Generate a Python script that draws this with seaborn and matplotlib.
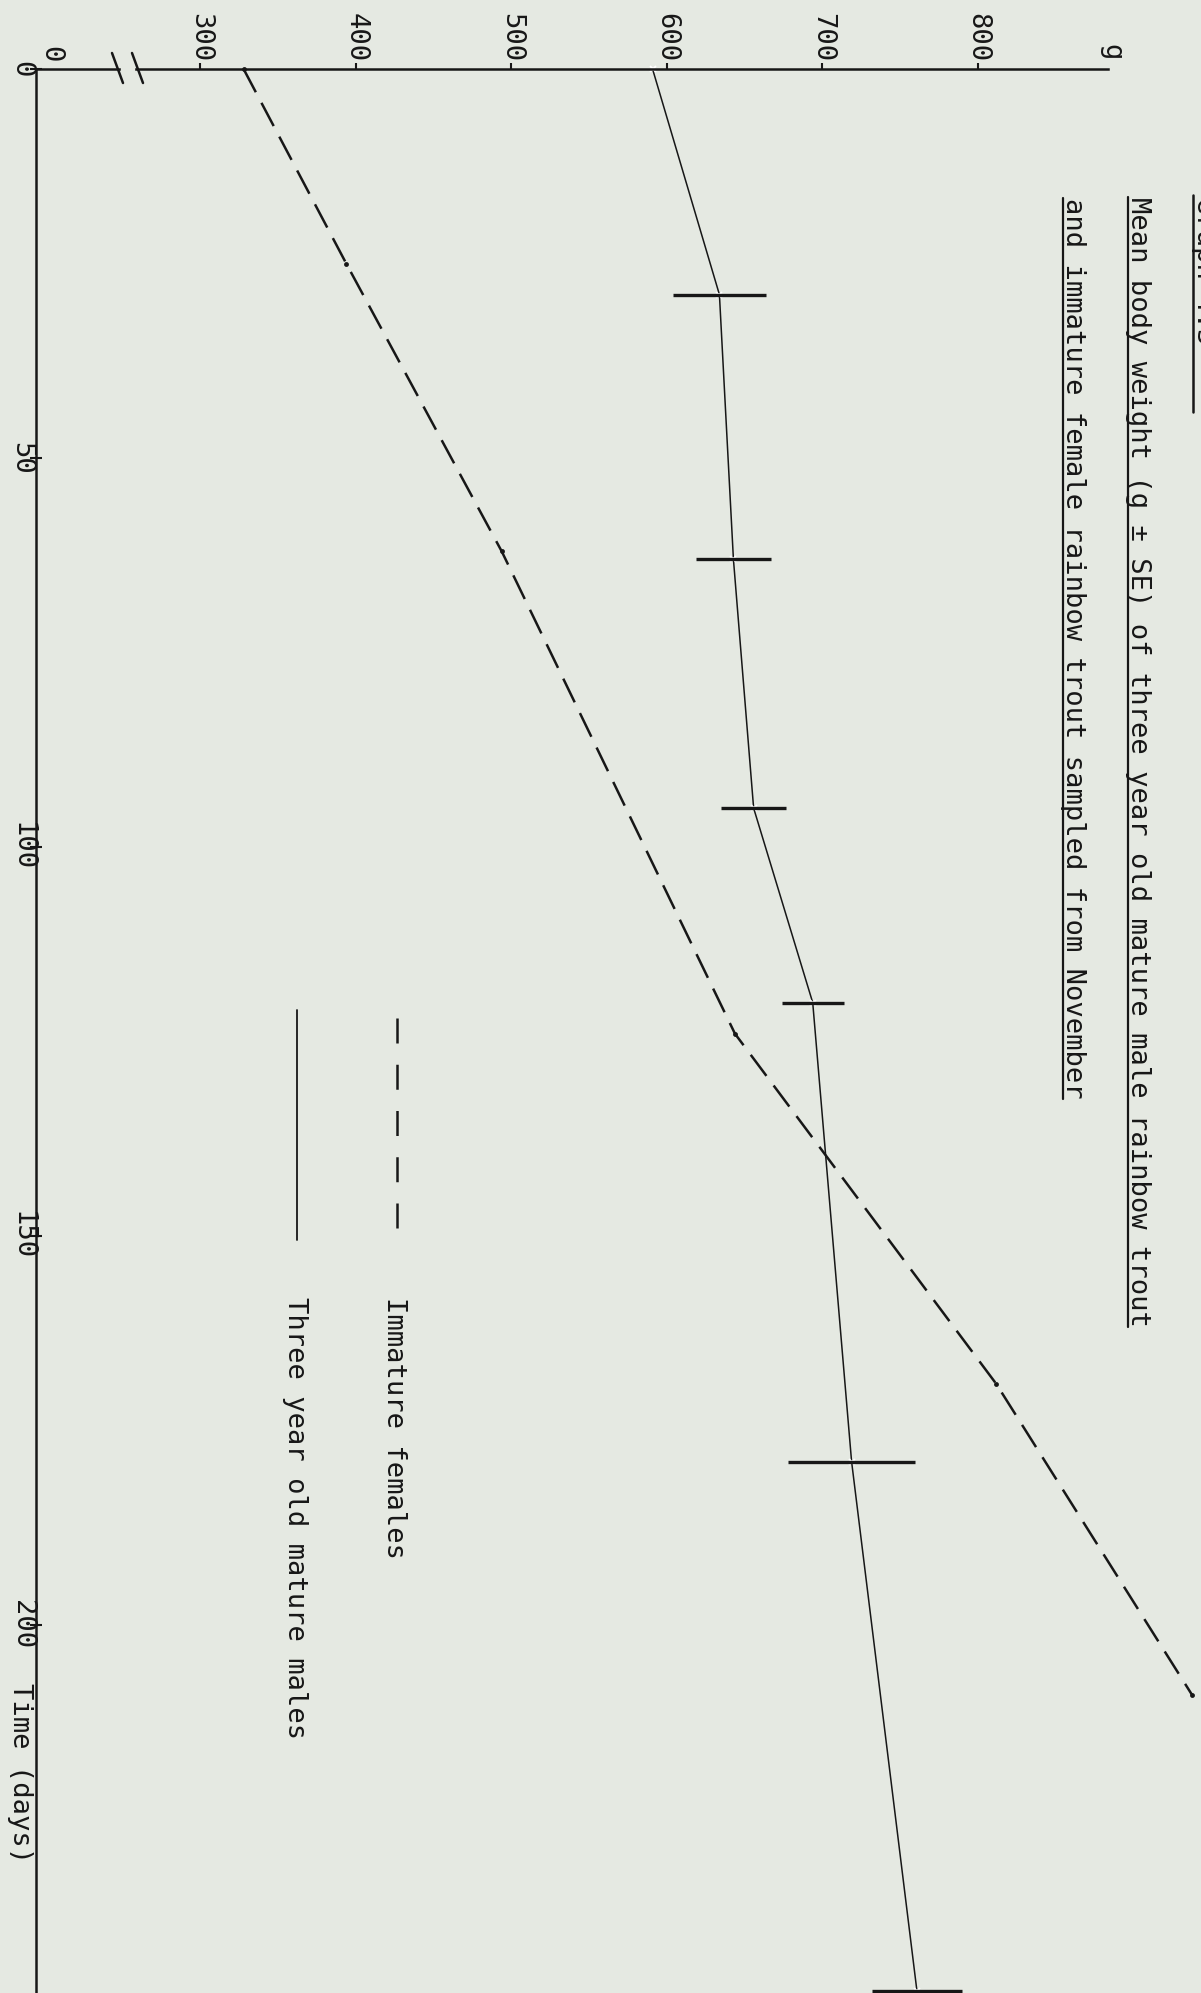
import numpy as np
import pandas as pd
import matplotlib.pyplot as plt
from matplotlib.lines import Line2D
from matplotlib.patches import Rectangle
import seaborn as sns

bg = '#e5e9e2'
ink = '#171717'
sns.set_theme(style="ticks", rc={"axes.facecolor": bg, "figure.facecolor": bg})
plt.rcParams['font.family'] = ['DejaVu Sans Mono', 'DejaVu Sans']

# immature females (dashed line)
female_days = [0, 25, 62, 124, 169, 209]
female_weight = [328, 394, 494, 644, 812, 938]

# three year old mature males (solid line), mean +/- SE
male_days = [0, 29, 63, 95, 120, 179, 247]
male_weight = [591, 634, 643, 656, 694, 719, 761]
male_se = [0, 30, 24, 21, 20, 41, 29]

# weight axis is broken between 0 and 300
weight_ticks = [203.5, 300, 400, 500, 600, 700, 800]
weight_labels = ['0', '300', '400', '500', '600', '700', '800']
day_ticks = [0, 50, 100, 150, 200]
day_labels = ['0', '50', '100', '150', '200']

W, H = 1201, 1993
FS = 19.5


def fx(px):
    return px / W


def fy(py):
    return 1 - py / H


def vtext(px, py, s, **kw):
    # page is turned 90 degrees, text reads top to bottom
    return fig.text(fx(px), fy(py), s, rotation=-90, rotation_mode='anchor',
                    ha='left', va='baseline', fontsize=FS, color=ink, **kw)


fig = plt.figure(figsize=(W / 100, H / 100), dpi=100)
ax = fig.add_axes([fx(36), 0, 1 - fx(36), 1 - 69 / H])

females = pd.DataFrame({'days': female_days, 'weight': female_weight})
males = pd.DataFrame({'days': male_days, 'weight': male_weight, 'se': male_se})

sns.lineplot(data=females, x='weight', y='days', sort=False, estimator=None, ax=ax,
             color=ink, lw=1.8, linestyle=(0, (10.5, 4.8)), marker='o',
             markersize=3.5, markeredgewidth=0, clip_on=False)
sns.lineplot(data=males, x='weight', y='days', sort=False, estimator=None, ax=ax,
             color=ink, lw=1.1, marker='x', markersize=5, markeredgewidth=1.3,
             clip_on=False)
ax.errorbar(males['weight'], males['days'], xerr=males['se'], fmt='none',
            ecolor=ink, elinewidth=2.4, capsize=0, clip_on=False)

ax.set_xlim(194.5, 943.7)
ax.set_ylim(247.3, 0)
ax.set_xlabel('')
ax.set_ylabel('')

ax.spines['bottom'].set_visible(False)
ax.spines['right'].set_visible(False)
ax.spines['top'].set_bounds(194.5, 884)
for s in ['top', 'left']:
    ax.spines[s].set_linewidth(1.8)
    ax.spines[s].set_color(ink)

ax.xaxis.tick_top()
ax.set_xticks(weight_ticks, weight_labels, rotation=-90, ha='center', va='bottom',
              fontsize=FS)
ax.set_yticks(day_ticks, day_labels, rotation=-90, ha='right', va='center',
              fontsize=FS)
ax.tick_params(axis='x', direction='out', length=4.5, width=1.5, pad=0.5,
               colors=ink, top=True, bottom=False)
ax.tick_params(axis='y', direction='inout', length=8, width=1.5, pad=-3,
               colors=ink)
ax.xaxis.get_major_ticks()[0].tick1line.set_visible(False)
ax.xaxis.get_major_ticks()[0].tick2line.set_visible(False)

# axis break marks
fig.add_artist(Rectangle((fx(121), fy(73)), fx(13), 7 / H, color=bg, zorder=3))
for x0 in [112, 132]:
    fig.add_artist(Line2D([fx(x0), fx(x0 + 11)], [fy(53), fy(83)],
                          color=ink, lw=1.8, zorder=4))

vtext(1104, 44, 'g')
vtext(13, 1683, 'Time (days)')

heading = vtext(1197, 197, 'Graph 4.3')
fig.add_artist(Line2D([fx(1193)] * 2, [fy(195), fy(412)], color=ink, lw=1.8))

t1 = vtext(1131, 197, 'Mean body weight (g \u00b1 SE) of three year old mature male rainbow trout')
t2 = vtext(1066, 198, 'and immature female rainbow trout sampled from November')

fig.canvas.draw()
renderer = fig.canvas.get_renderer()
for t, x in [(t1, 1128), (t2, 1063)]:
    bb = t.get_window_extent(renderer)
    fig.add_artist(Line2D([fx(x)] * 2, [bb.y0 / H, bb.y1 / H], color=ink, lw=1.6))

# legend, drawn by hand as on the page
fig.add_artist(Line2D([fx(397)] * 2, [fy(1018), fy(1240)], color=ink, lw=1.8,
                      linestyle=(0, (10, 8.5))))
vtext(387, 1297, 'Immature females')
fig.add_artist(Line2D([fx(297)] * 2, [fy(1010), fy(1240)], color=ink, lw=1.3))
vtext(288, 1297, 'Three year old mature males')

fig.savefig('out.png', dpi=100, facecolor=bg)
